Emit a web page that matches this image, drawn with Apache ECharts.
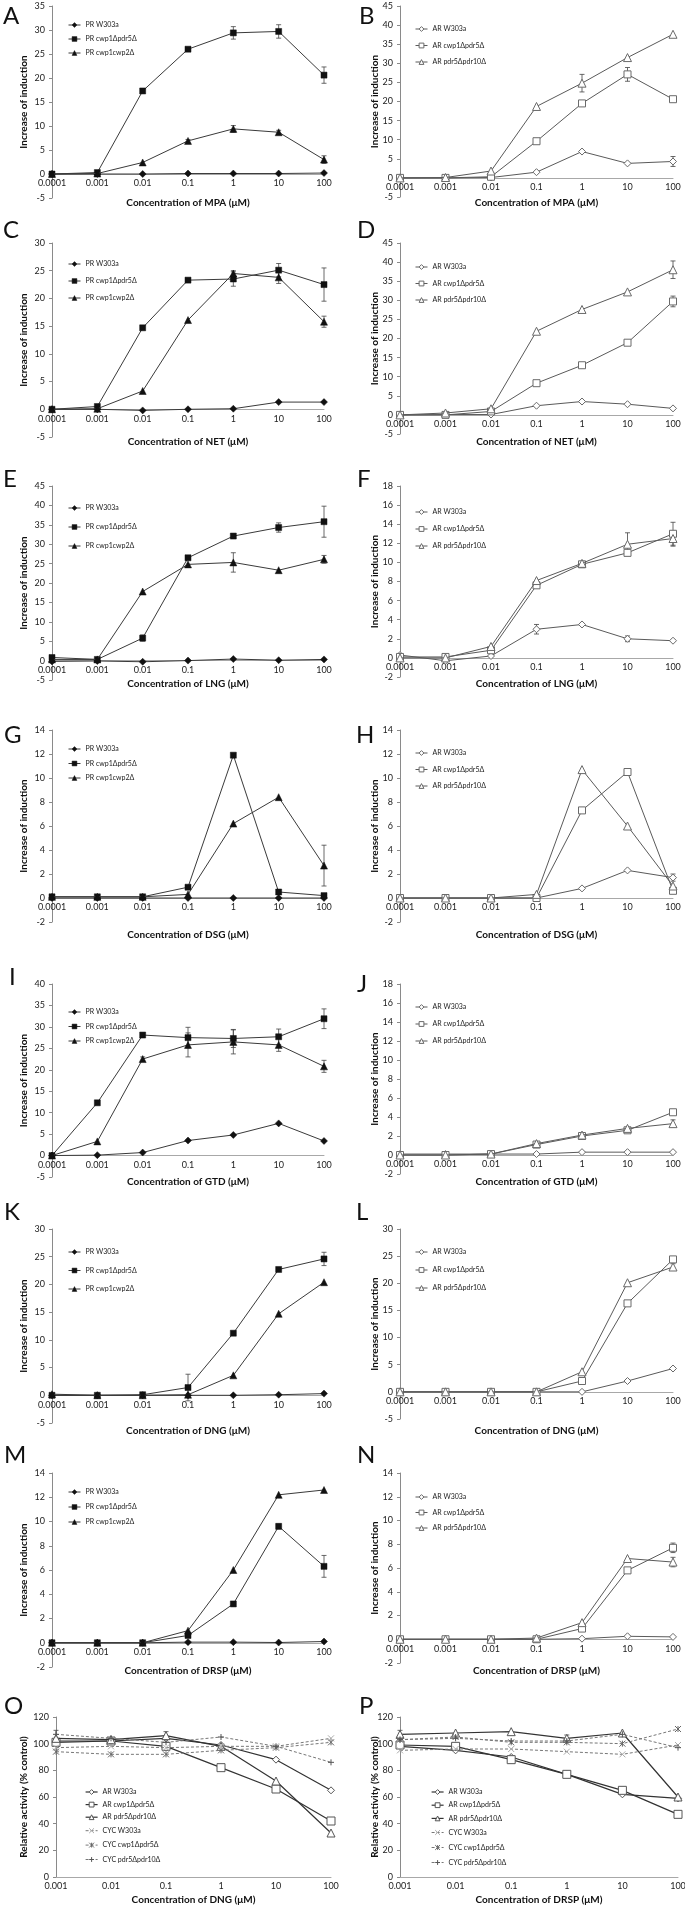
<!DOCTYPE html>
<html><head><meta charset="utf-8">
<script src="https://cdn.jsdelivr.net/npm/echarts/dist/echarts.min.js"></script>
<style>html,body{margin:0;padding:0;background:#fff}#c{width:685px;height:1909px}</style>
</head><body><div id="c"></div>
<script>
// ---------- categories / names ----------
const cats7 = ['0.0001','0.001','0.01','0.1','1','10','100'];
const cats6 = ['0.001','0.01','0.1','1','10','100'];
const prNames = ['PR W303a','PR cwp1Δpdr5Δ','PR cwp1cwp2Δ'];
const arNames = ['AR W303a','AR cwp1Δpdr5Δ','AR pdr5Δpdr10Δ'];
const opNames = ['AR W303a','AR cwp1Δpdr5Δ','AR pdr5Δpdr10Δ','CYC W303a','CYC cwp1Δpdr5Δ','CYC pdr5Δpdr10Δ'];

// ---------- data ----------
const A_W303a = [0, 0, 0, 0.1, 0.1, 0.1, 0.2];
const A_cwp1pdr5 = [0, 0.3, 17.3, 26.0, 29.4, 29.7, 20.6];
const A_cwp1cwp2 = [0, 0.1, 2.4, 6.9, 9.4, 8.7, 3.0];
const A_cwp1pdr5_err = [0, 0, 0, 0.3, 1.3, 1.4, 1.7];
const A_cwp1cwp2_err = [0, 0, 0, 0.3, 0.7, 0.4, 0.8];

const B_W303a = [0, 0, 0.1, 1.5, 6.9, 3.8, 4.3];
const B_cwp1pdr5 = [0, 0, 0.3, 9.6, 19.5, 27.1, 20.6];
const B_pdr5pdr10 = [0, 0.1, 1.8, 18.7, 24.8, 31.5, 37.6];
const B_W303a_err = [0, 0, 0, 0, 0, 0, 1.3];
const B_cwp1pdr5_err = [0, 0, 0, 0, 0.5, 1.8, 0.5];
const B_pdr5pdr10_err = [0, 0, 0, 0, 2.3, 0, 0];

const C_W303a = [0, 0, -0.2, 0, 0.1, 1.3, 1.3];
const C_cwp1pdr5 = [0, 0.5, 14.7, 23.3, 23.5, 25.1, 22.5];
const C_cwp1cwp2 = [0, 0.1, 3.3, 16.1, 24.5, 23.8, 15.8];
const C_cwp1pdr5_err = [0, 0, 0, 0, 1.3, 1.2, 3.0];
const C_cwp1cwp2_err = [0, 0, 0, 0, 0.5, 1.1, 1.0];

const D_W303a = [0, 0.1, 0.1, 2.4, 3.5, 2.8, 1.7];
const D_cwp1pdr5 = [0, 0, 0.9, 8.3, 13.0, 18.9, 29.7];
const D_pdr5pdr10 = [0, 0.5, 1.6, 21.9, 27.6, 32.2, 38.0];
const D_cwp1pdr5_err = [0, 0, 0, 0, 0, 0, 1.4];
const D_pdr5pdr10_err = [0, 0, 0, 0, 0, 0, 2.3];

const E_W303a = [-0.2, -0.1, -0.3, 0, 0.4, 0.1, 0.3];
const E_cwp1pdr5 = [0.8, 0.3, 5.8, 26.5, 32.1, 34.3, 35.8];
const E_cwp1cwp2 = [0.3, 0.3, 17.8, 24.8, 25.3, 23.3, 26.1];
const E_cwp1pdr5_err = [0, 0, 0.8, 0, 0.5, 1.2, 4.0];
const E_cwp1cwp2_err = [0, 0, 0, 0, 2.5, 0, 1.0];

const F_W303a = [0.3, -0.3, 0.2, 3.0, 3.5, 2.0, 1.8];
const F_cwp1pdr5 = [0.1, 0.1, 0.8, 7.6, 9.8, 11.0, 13.0];
const F_pdr5pdr10 = [0, 0, 1.2, 8.1, 9.9, 11.9, 12.5];
const F_W303a_err = [0, 0, 0, 0.5, 0, 0.3, 0];
const F_cwp1pdr5_err = [0, 0, 0, 0, 0, 0, 1.2];
const F_pdr5pdr10_err = [0, 0, 0, 0, 0, 1.2, 0.8];

const G_W303a = [0, 0, 0, 0, 0, 0, 0];
const G_cwp1pdr5 = [0.1, 0.1, 0.1, 0.9, 11.9, 0.5, 0.2];
const G_cwp1cwp2 = [0.1, 0.1, 0.1, 0.3, 6.2, 8.4, 2.7];
const G_cwp1cwp2_err = [0, 0, 0, 0, 0, 0, 1.7];

const H_W303a = [0, 0, 0, 0, 0.8, 2.3, 1.7];
const H_cwp1pdr5 = [0, 0, 0, 0, 7.3, 10.5, 0.6];
const H_pdr5pdr10 = [0, 0, 0, 0.3, 10.7, 6.0, 1.0];
const H_W303a_err = [0, 0, 0, 0, 0, 0, 0.3];

const I_W303a = [0, 0.1, 0.7, 3.5, 4.8, 7.5, 3.4];
const I_cwp1pdr5 = [0, 12.3, 28.1, 27.5, 27.3, 27.7, 31.9];
const I_cwp1cwp2 = [0, 3.3, 22.5, 25.8, 26.5, 25.8, 20.8];
const I_cwp1pdr5_err = [0, 0, 0, 2.4, 2.1, 1.8, 2.3];
const I_cwp1cwp2_err = [0, 0, 0.5, 2.8, 2.8, 1.5, 1.4];

const J_W303a = [0.1, 0.1, 0.1, 0.1, 0.3, 0.3, 0.3];
const J_cwp1pdr5 = [0, 0, 0.1, 1.1, 2.0, 2.6, 4.5];
const J_pdr5pdr10 = [0, 0, 0.1, 1.2, 2.1, 2.8, 3.3];
const J_pdr5pdr10_err = [0, 0, 0, 0, 0, 0, 0.4];

const K_W303a = [0, 0, 0, 0, 0, 0.1, 0.3];
const K_cwp1pdr5 = [0, 0, 0.1, 1.4, 11.2, 22.7, 24.6];
const K_cwp1cwp2 = [0.2, 0, 0, 0.1, 3.6, 14.7, 20.4];
const K_cwp1pdr5_err = [0, 0, 0, 2.4, 0, 0, 1.2];

const L_W303a = [0, 0, 0, 0, 0, 2.0, 4.3];
const L_cwp1pdr5 = [0, 0, 0, 0, 2.0, 16.3, 24.4];
const L_pdr5pdr10 = [0, 0, 0, 0, 3.7, 20.1, 23.0];
const L_pdr5pdr10_err = [0, 0, 0, 0, 0, 0, 0.6];

const M_W303a = [0, 0, 0, 0.05, 0.05, 0.02, 0.1];
const M_cwp1pdr5 = [0, 0, 0, 0.6, 3.2, 9.6, 6.3];
const M_cwp1cwp2 = [0, 0, 0, 1.0, 6.0, 12.2, 12.6];
const M_cwp1pdr5_err = [0, 0, 0, 0, 0, 0.2, 0.9];

const N_W303a = [0, 0, 0, 0, 0.05, 0.25, 0.2];
const N_cwp1pdr5 = [0, 0, 0, 0, 0.9, 5.8, 7.7];
const N_pdr5pdr10 = [0, 0, 0, 0.1, 1.4, 6.8, 6.5];
const N_cwp1pdr5_err = [0, 0, 0, 0, 0, 0, 0.4];
const N_pdr5pdr10_err = [0, 0, 0, 0, 0, 0, 0.4];

const O_AR_W303a = [102, 102, 104, 99, 88, 65];
const O_AR_cwp1pdr5 = [101, 102, 98, 82, 66, 42];
const O_AR_pdr5pdr10 = [104, 103, 106, 98, 72, 33];
const O_CYC_W303a = [97, 98, 97, 98, 98, 104];
const O_CYC_cwp1pdr5 = [94, 92, 92, 95, 97, 101];
const O_CYC_pdr5pdr10 = [107, 104, 101, 105, 98, 86];
const O_AR_pdr5pdr10_err = [0, 0, 3, 0, 0, 0];
const O_CYC_pdr5pdr10_err = [3, 0, 0, 0, 0, 0];

const P_AR_W303a = [98, 95, 90, 77, 62, 59];
const P_AR_cwp1pdr5 = [99, 98, 88, 77, 65, 47];
const P_AR_pdr5pdr10 = [107, 108, 109, 104, 108, 60];
const P_CYC_W303a = [95, 96, 96, 94, 92, 99];
const P_CYC_cwp1pdr5 = [103, 105, 101, 101, 100, 111];
const P_CYC_pdr5pdr10 = [103, 104, 102, 102, 107, 97];
const P_AR_pdr5pdr10_err = [3, 0, 0, 2.5, 0, 0];

// ---------- panel configuration ----------
const LX = [52, 324], RX = [400, 673];
const panels = [
  {n:'A', drug:'MPA', kind:'PR', d:[A_W303a,A_cwp1pdr5,A_cwp1cwp2], e:[null,A_cwp1pdr5_err,A_cwp1cwp2_err], min:-5,max:35,step:5, x:LX, y:[6,198], lg:[68,21,6], L:[3,16], xt:203},
  {n:'B', drug:'MPA', kind:'AR', d:[B_W303a,B_cwp1pdr5,B_pdr5pdr10], e:[B_W303a_err,B_cwp1pdr5_err,B_pdr5pdr10_err], min:-5,max:45,step:5, x:RX, y:[6,197], lg:[415,25,8.5], L:[359,16], xt:203},
  {n:'C', drug:'NET', kind:'PR', d:[C_W303a,C_cwp1pdr5,C_cwp1cwp2], e:[null,C_cwp1pdr5_err,C_cwp1cwp2_err], min:-5,max:30,step:5, x:LX, y:[243,437], lg:[68,260,9], L:[3,230], xt:442},
  {n:'D', drug:'NET', kind:'AR', d:[D_W303a,D_cwp1pdr5,D_pdr5pdr10], e:[null,D_cwp1pdr5_err,D_pdr5pdr10_err], min:-5,max:45,step:5, x:RX, y:[243,434], lg:[415,263,8.5], L:[357,230], xt:442},
  {n:'E', drug:'LNG', kind:'PR', d:[E_W303a,E_cwp1pdr5,E_cwp1cwp2], e:[null,E_cwp1pdr5_err,E_cwp1cwp2_err], min:-5,max:45,step:5, x:LX, y:[486,680], lg:[68,504,11], L:[3,479], xt:684},
  {n:'F', drug:'LNG', kind:'AR', d:[F_W303a,F_cwp1pdr5,F_pdr5pdr10], e:[F_W303a_err,F_cwp1pdr5_err,F_pdr5pdr10_err], min:-2,max:18,step:2, x:RX, y:[486,677], lg:[415,508,9], L:[357,479], xt:684},
  {n:'G', drug:'DSG', kind:'PR', d:[G_W303a,G_cwp1pdr5,G_cwp1cwp2], e:[null,null,G_cwp1cwp2_err], min:-2,max:14,step:2, x:LX, y:[730,922], lg:[68,745,6.5], L:[4,735], xt:935},
  {n:'H', drug:'DSG', kind:'AR', d:[H_W303a,H_cwp1pdr5,H_pdr5pdr10], e:[H_W303a_err,null,null], min:-2,max:14,step:2, x:RX, y:[730,922], lg:[415,749,8.5], L:[356,735], xt:935},
  {n:'I', drug:'GTD', kind:'PR', d:[I_W303a,I_cwp1pdr5,I_cwp1cwp2], e:[null,I_cwp1pdr5_err,I_cwp1cwp2_err], min:-5,max:40,step:5, x:LX, y:[984,1177], lg:[68,1008,6.5], L:[9,977], xt:1182},
  {n:'J', drug:'GTD', kind:'AR', d:[J_W303a,J_cwp1pdr5,J_pdr5pdr10], e:[null,null,J_pdr5pdr10_err], min:-2,max:18,step:2, x:RX, y:[984,1174], lg:[415,1003,9], L:[357,984], xt:1182},
  {n:'K', drug:'DNG', kind:'PR', d:[K_W303a,K_cwp1pdr5,K_cwp1cwp2], e:[null,K_cwp1pdr5_err,null], min:-5,max:30,step:5, x:LX, y:[1229,1423], lg:[68,1248,10.5], L:[4,1212], xt:1431},
  {n:'L', drug:'DNG', kind:'AR', d:[L_W303a,L_cwp1pdr5,L_pdr5pdr10], e:[null,null,L_pdr5pdr10_err], min:-5,max:30,step:5, x:RX, y:[1229,1419], lg:[415,1248,10], L:[356,1212], xt:1431},
  {n:'M', drug:'DRSP', kind:'PR', d:[M_W303a,M_cwp1pdr5,M_cwp1cwp2], e:[null,M_cwp1pdr5_err,null], min:-2,max:14,step:2, x:LX, y:[1473,1667], lg:[68,1488,7], L:[4,1455], xt:1671},
  {n:'N', drug:'DRSP', kind:'AR', d:[N_W303a,N_cwp1pdr5,N_pdr5pdr10], e:[null,N_cwp1pdr5_err,N_pdr5pdr10_err], min:-2,max:14,step:2, x:RX, y:[1473,1663], lg:[415,1493,7.5], L:[357,1455], xt:1671},
  {n:'O', drug:'DNG', kind:'OP', d:[O_AR_W303a,O_AR_cwp1pdr5,O_AR_pdr5pdr10,O_CYC_W303a,O_CYC_cwp1pdr5,O_CYC_pdr5pdr10], e:[null,null,O_AR_pdr5pdr10_err,null,null,O_CYC_pdr5pdr10_err], min:0,max:120,step:20, x:[56,331], y:[1717,1877], lg:[85,1788,4.6], L:[4,1706], xt:1900},
  {n:'P', drug:'DRSP', kind:'OP', d:[P_AR_W303a,P_AR_cwp1pdr5,P_AR_pdr5pdr10,P_CYC_W303a,P_CYC_cwp1pdr5,P_CYC_pdr5pdr10], e:[null,null,P_AR_pdr5pdr10_err,null,null,null], min:0,max:120,step:20, x:[400,678], y:[1717,1877], lg:[431,1788,5.2], L:[359,1706], xt:1900}
];

// ---------- styles ----------
const FONT = 'Lato';
const symX = 'path://M0,0L10,10M10,0L0,10';
const symPlus = 'path://M5,0L5,10M0,5L10,5';
const symAst = 'path://M0,0L10,10M10,0L0,10M5,0L5,10';
function styleFor(kind, i) {
  if (kind === 'PR') {
    const sym = ['diamond','rect','triangle'][i];
    const sz = [7,6,7][i];
    return {symbol:sym, symbolSize:sz, itemStyle:{color:'#111', borderColor:'#111', borderWidth:0.5}, lineStyle:{color:'#3a3a3a', width:1}};
  }
  if (kind === 'AR') {
    const sym = ['diamond','rect','triangle'][i];
    const sz = [7,7,8][i];
    return {symbol:sym, symbolSize:sz, itemStyle:{color:'#fff', borderColor:'#6a6a6a', borderWidth:1}, lineStyle:{color:'#5a5a5a', width:1}};
  }
  if (i < 3) {
    const sym = ['diamond','rect','triangle'][i];
    const sz = [7,8,8][i];
    return {symbol:sym, symbolSize:sz, itemStyle:{color:'#fff', borderColor:'#555', borderWidth:1}, lineStyle:{color:'#333', width:1.2}};
  }
  const sym = [symX, symAst, symPlus][i-3];
  const col = ['#aaa','#666','#555'][i-3];
  return {symbol:sym, symbolSize:6, itemStyle:{color:'none', borderColor:col, borderWidth:1}, lineStyle:{color:'#777', width:1, type:[3,2]}};
}

function errItem(params, api) {
  const x = api.value(0), y = api.value(1), e = api.value(2);
  const p1 = api.coord([x, y + e]), p2 = api.coord([x, y - e]);
  const w = 2.5;
  const st = {stroke:'#444', lineWidth:0.8};
  return {type:'group', children:[
    {type:'line', shape:{x1:p1[0],y1:p1[1],x2:p2[0],y2:p2[1]}, style:st},
    {type:'line', shape:{x1:p1[0]-w,y1:p1[1],x2:p1[0]+w,y2:p1[1]}, style:st},
    {type:'line', shape:{x1:p2[0]-w,y1:p2[1],x2:p2[0]+w,y2:p2[1]}, style:st}
  ]};
}

const grid = [], xAxis = [], yAxis = [], series = [], legend = [], graphic = [];
panels.forEach((p, k) => {
  const cats = p.kind === 'OP' ? cats6 : cats7;
  const names = p.kind === 'PR' ? prNames : (p.kind === 'AR' ? arNames : opNames);
  const h = p.y[1] - p.y[0];
  const zeroY = p.y[0] + p.max / (p.max - p.min) * h;
  const lblMargin = p.min < 0 ? (zeroY + 5 - p.y[1]) : 5;
  grid.push({left:p.x[0], top:p.y[0], width:p.x[1]-p.x[0], height:h, containLabel:false, outerBoundsMode:'none'});
  xAxis.push({type:'category', gridIndex:k, data:cats, boundaryGap:false,
    axisLine:{onZero:true, lineStyle:{color:'#a8a8a8', width:1}},
    axisTick:{show:false},
    axisLabel:{interval:0, fontSize:9, color:'#222', fontFamily:FONT, margin:lblMargin, hideOverlap:false}});
  yAxis.push({type:'value', gridIndex:k, min:p.min, max:p.max, interval:p.step,
    axisLine:{show:true, lineStyle:{color:'#8a8a8a', width:1}},
    axisTick:{show:true, length:3, lineStyle:{color:'#8a8a8a'}},
    splitLine:{show:false},
    axisLabel:{fontSize:9, color:'#222', fontFamily:FONT, margin:7}});
  const legendData = [];
  p.d.forEach((arr, i) => {
    const st = styleFor(p.kind, i);
    series.push(Object.assign({type:'line', name:names[i], xAxisIndex:k, yAxisIndex:k, data:arr,
      showSymbol:true, animation:false, z:3+i, emphasis:{disabled:true}}, st));
    legendData.push({name:names[i], icon:st.symbol, itemStyle:Object.assign({}, st.itemStyle),
      lineStyle:Object.assign({}, st.lineStyle)});
    const er = p.e[i];
    if (er) {
      const ed = [];
      er.forEach((v, j) => { if (v > 0) ed.push([j, arr[j], v]); });
      series.push({type:'custom', name:'err'+p.n+i, xAxisIndex:k, yAxisIndex:k, data:ed,
        encode:{x:0, y:1}, renderItem:errItem, animation:false, z:2, silent:true});
    }
  });
  legend.push({show:true, orient:'vertical', left:p.lg[0], top:p.lg[1], itemGap:p.lg[2],
    itemWidth:12, itemHeight:6, selectedMode:false, padding:0,
    textStyle:{fontSize:7, fontFamily:FONT, color:'#222', lineHeight:8}, data:legendData.map(o => ({name:o.name, itemStyle:o.itemStyle, lineStyle:o.lineStyle}))});
  graphic.push({type:'text', x:p.L[0], y:p.L[1], style:{text:p.n, fontSize:24, fontFamily:FONT, fill:'#111', verticalAlign:'middle', align:'left'}});
  graphic.push({type:'text', x:(p.x[0]+p.x[1])/2, y:p.xt, style:{text:'Concentration of ' + p.drug + ' (μM)', fontSize:10, fontWeight:'bold', fontFamily:FONT, fill:'#111', align:'center', verticalAlign:'middle'}});
  const yt = p.kind === 'OP' ? 'Relative activity (% control)' : 'Increase of induction';
  graphic.push({type:'text', x:(p.x[0] < 200 ? 24 : 375), y:(p.y[0]+p.y[1])/2, rotation:Math.PI/2,
    style:{text:yt, fontSize:10, fontWeight:'bold', fontFamily:FONT, fill:'#111', align:'center', verticalAlign:'middle'}});
});

const chart = echarts.init(document.getElementById('c'), null, {renderer:'canvas', width:685, height:1909});
chart.setOption({
  animation:false,
  backgroundColor:'#fff',
  textStyle:{fontFamily:FONT},
  grid, xAxis, yAxis, series, legend, graphic
});
</script>
</body></html>
